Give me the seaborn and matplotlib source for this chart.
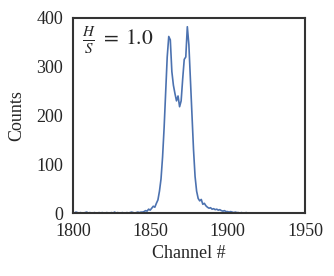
import numpy as np
import pandas as pd
import seaborn as sns
import matplotlib.pyplot as plt

# Channel numbers and counts
channels = list(range(1800, 1951))
counts = [
    1, 0, 2, 1, 0, 1, 0, 0, 1, 2,   # 1800-1809
    0, 1, 0, 0, 1, 0, 0, 1, 0, 1,   # 1810-1819
    0, 0, 1, 0, 0, 1, 0, 2, 0, 1,   # 1820-1829
    0, 0, 1, 0, 0, 1, 0, 1, 2, 1,   # 1830-1839
    0, 1, 2, 1, 2, 2, 3, 5, 4, 8,   # 1840-1849
    6, 10, 14, 12, 20, 27, 45, 70, 115, 175,   # 1850-1859
    250, 320, 362, 355, 290, 262, 245, 230, 240, 218,   # 1860-1869
    230, 275, 315, 320, 382, 345, 275, 200, 130, 75,   # 1870-1879
    45, 30, 25, 28, 18, 20, 15, 12, 10, 11,   # 1880-1889
    8, 9, 7, 8, 6, 7, 5, 4, 5, 3,   # 1890-1899
    3, 2, 3, 2, 1, 2, 1, 1, 0, 1,   # 1900-1909
    0, 0, 1, 0, 0, 0, 0, 0, 0, 0,   # 1910-1919
    0, 0, 0, 0, 0, 0, 0, 0, 0, 0,   # 1920-1929
    0, 0, 0, 0, 0, 0, 0, 0, 0, 0,   # 1930-1939
    0, 0, 0, 0, 0, 0, 0, 0, 0, 0,   # 1940-1949
    0,                              # 1950
]
x_ticks = [1800, 1850, 1900, 1950]
y_ticks = [0, 100, 200, 300, 400]

df = pd.DataFrame({'channel': channels, 'counts': counts})

sns.set_style('white')
plt.rcParams['font.family'] = ['Liberation Serif', 'DejaVu Serif']
plt.rcParams['mathtext.fontset'] = 'stix'

fig, ax = plt.subplots(figsize=(3.34, 2.76), dpi=100)
fig.subplots_adjust(left=0.218, right=0.913, top=0.935, bottom=0.228)

sns.lineplot(x='channel', y='counts', data=df, color='#4c72b0', linewidth=1.2, ax=ax)

ax.set_xlim(1800, 1950)
ax.set_ylim(0, 400)
ax.set_xticks(x_ticks)
ax.set_yticks(y_ticks)
ax.tick_params(labelsize=13, length=0, pad=7)
ax.set_xlabel('Channel #', fontsize=13, labelpad=4)
ax.set_ylabel('Counts', fontsize=13, labelpad=8)
for s in ax.spines.values():
    s.set_color('#333333')
    s.set_linewidth(1.5)

ax.text(0.04, 0.965, r'$\frac{H}{S}\;=\;1.0$', transform=ax.transAxes,
        fontsize=15.5, va='top', ha='left')

fig.savefig('out.png', dpi=100)
